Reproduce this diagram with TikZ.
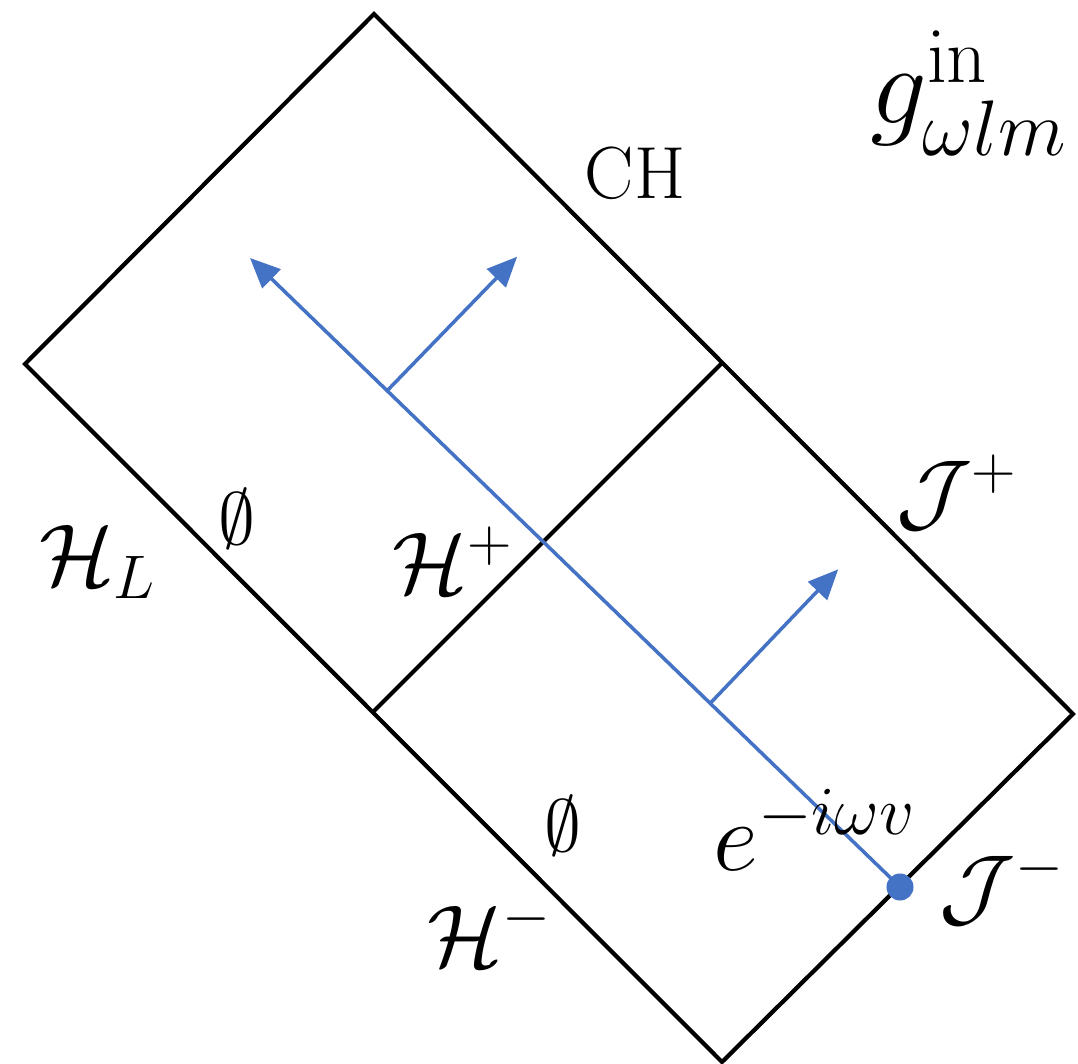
\RequirePackage{fix-cm}
\documentclass[tikz,border=0pt]{standalone}
\usepackage{amsmath,amssymb}
\usetikzlibrary{arrows.meta,calc}
\definecolor{rayblue}{RGB}{68,114,196}

\begin{document}
\begin{tikzpicture}[x=0.01cm,y=-0.01cm,>={Triangle[length=3mm,width=2.6mm]},
  edge/.style={line width=1.2pt},
  ray/.style={rayblue,line width=1pt,->},
  lbl/.style={inner sep=0pt,font=\fontsize{25}{30}\selectfont}]
\useasboundingbox (0,0) rectangle (1078,1064);
\coordinate (T) at (374,14);
\coordinate (L) at (25,364);
\coordinate (B) at (722,1062);
\coordinate (R) at (1073,714);
\coordinate (M1) at (722,363);
\coordinate (M2) at (373,712);
\draw[edge] (T) -- (L) -- (B) -- (R) -- cycle;
\draw[edge] (M1) -- (M2);
\node[circle,fill=rayblue,inner sep=0pt,minimum size=0.27cm] (src) at (900,887) {};
\coordinate (tip) at (250,258);
\coordinate (b1) at ($(src)!0.789!(tip)$);
\coordinate (b2) at ($(src)!0.292!(tip)$);
\coordinate (tip1) at ($(b1)+(130,-134)$);
\coordinate (tip2) at ($(b2)+(128,-134)$);
\draw[ray] (src.center) -- (tip);
\draw[ray] (b1) -- (tip1);
\draw[ray] (b2) -- (tip2);
\node[lbl,font=\fontsize{32}{38}\selectfont] (glab) at (969,93) {$g^{\mathrm{in}}_{\omega l m}$};
\node[lbl,font=\fontsize{21}{25}\selectfont] (ch) at (635,173) {CH};
\node[lbl] (hl) at (98,562) {$\mathcal{H}_L$};
\node[lbl,font=\fontsize{21}{25}\selectfont] (e1) at (237,519) {$\emptyset$};
\node[lbl] (hp) at (453,560) {$\mathcal{H}^+$};
\node[lbl] (jp) at (957,492) {$\mathcal{J}^+$};
\node[lbl,font=\fontsize{21}{25}\selectfont] (e2) at (563,826) {$\emptyset$};
\node[lbl] (hm) at (490,933) {$\mathcal{H}^-$};
\node[lbl,font=\fontsize{28}{34}\selectfont] (wave) at (815,830) {$e^{-i\omega v}$};
\node[lbl] (jm) at (1002,887) {$\mathcal{J}^-$};
\end{tikzpicture}
\end{document}
